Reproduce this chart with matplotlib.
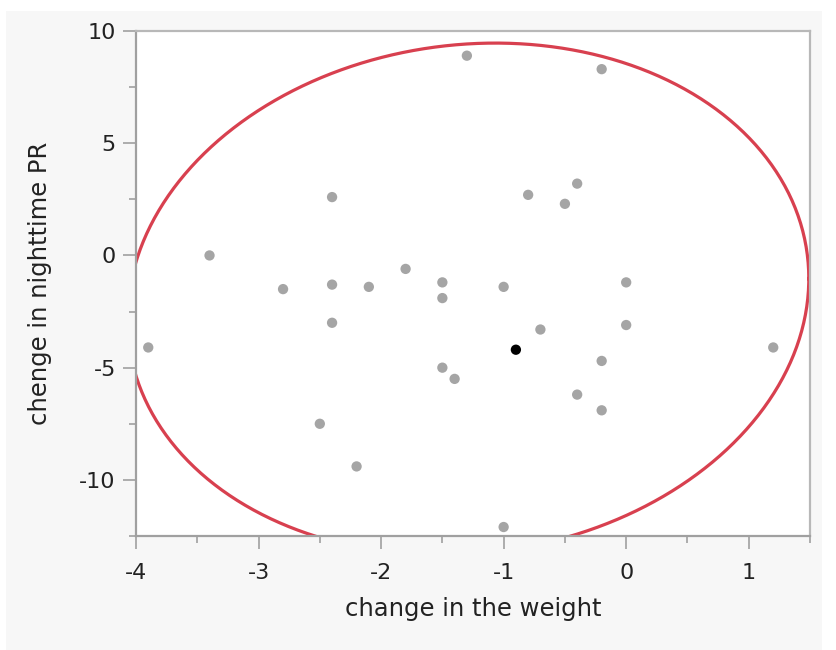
import numpy as np
import matplotlib
matplotlib.use('Agg')
import matplotlib.pyplot as plt
from matplotlib.patches import Rectangle
from matplotlib.ticker import MultipleLocator

# data
weight_change = [-1.3, -0.2, -2.4, -0.8, -0.4, -0.5, -3.4, -2.8, -2.4, -2.1,
                 -1.8, -1.5, -1.5, -1.0, -2.4, 0.0, 0.0, -0.7, -3.9, 1.2,
                 -0.2, -1.5, -1.4, -0.4, -0.2, -2.5, -2.2, -1.0]
pr_change = [8.9, 8.3, 2.6, 2.7, 3.2, 2.3, 0.0, -1.5, -1.3, -1.4,
             -0.6, -1.2, -1.9, -1.4, -3.0, -1.2, -3.1, -3.3, -4.1, -4.1,
             -4.7, -5.0, -5.5, -6.2, -6.9, -7.5, -9.4, -12.1]
# highlighted row
sel_weight = [-0.9]
sel_pr = [-4.2]

# density ellipse (center and spread)
ell_center = [-1.29, -1.94]
ell_var_x = 7.73
ell_var_y = 130.0
ell_cov_xy = 2.53

fig = plt.figure(figsize=(8.36, 6.5), dpi=100)
fig.patch.set_facecolor('white')
# light gray panel behind the plot
panel = Rectangle((6 / 836, 0), (822 - 6) / 836, 1 - 11 / 650,
                  transform=fig.transFigure, facecolor='#f7f7f7',
                  edgecolor='none', zorder=-10)
fig.patches.append(panel)

ax = fig.add_axes([136 / 836, 1 - 536 / 650, (810 - 136) / 836, (536 - 31) / 650])
ax.set_facecolor('white')
ax.set_zorder(1)

# ellipse through its covariance-like matrix
S = np.array([[ell_var_x, ell_cov_xy], [ell_cov_xy, ell_var_y]])
L = np.linalg.cholesky(S)
t = np.linspace(0, 2 * np.pi, 400)
circ = np.vstack([np.cos(t), np.sin(t)])
pts = L @ circ
ax.plot(ell_center[0] + pts[0], ell_center[1] + pts[1], color='#d8404f', lw=2.3, zorder=2)

ax.scatter(weight_change, pr_change, s=55, color='#a5a5a5', edgecolors='none', zorder=3)
ax.scatter(sel_weight, sel_pr, s=55, color='black', edgecolors='none', zorder=4)

ax.set_xlim(-4, 1.5)
ax.set_ylim(-12.5, 10)
ax.xaxis.set_major_locator(MultipleLocator(1))
ax.xaxis.set_minor_locator(MultipleLocator(0.5))
ax.yaxis.set_major_locator(MultipleLocator(5))
ax.yaxis.set_minor_locator(MultipleLocator(2.5))

for sp in ['left', 'bottom']:
    ax.spines[sp].set_color('#a0a0a0')
    ax.spines[sp].set_linewidth(1.6)
for sp in ['top', 'right']:
    ax.spines[sp].set_color('#b8b8b8')
    ax.spines[sp].set_linewidth(1.6)

ax.tick_params(which='major', length=9.5, width=1.2, color='#a0a0a0', direction='out',
               labelsize=16, labelcolor='#222222')
ax.tick_params(which='minor', length=5, width=1.2, color='#a0a0a0', direction='out')
ax.tick_params(axis='x', which='major', pad=10)
ax.tick_params(axis='y', which='major', pad=5)

ax.set_xticks(ax.get_xticks())
ax.set_xticklabels([f'{v:g}' for v in ax.get_xticks()])
ax.set_yticks(ax.get_yticks())
ax.set_yticklabels([f'{v:g}' for v in ax.get_yticks()])
ax.set_xlim(-4, 1.5)
ax.set_ylim(-12.5, 10)

ax.set_xlabel('change in the weight', fontsize=17.5, color='#222222', labelpad=10)
ax.set_ylabel('chenge in nighttime PR', fontsize=17.5, color='#222222', labelpad=20)

fig.savefig('out.png', dpi=100)
